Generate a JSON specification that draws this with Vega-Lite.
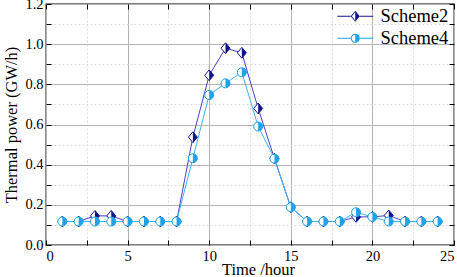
{
  "$schema": "https://vega.github.io/schema/vega-lite/v6.json",
  "width": 408,
  "height": 241,
  "autosize": "none",
  "padding": {"left": 46, "top": 4, "right": 3, "bottom": 32},
  "background": "white",
  "config": {
    "view": {"stroke": "#000", "strokeWidth": 1.3},
    "font": "Liberation Serif, Times New Roman, Times, serif",
    "axis": {"domain": false, "labelFont": "Liberation Serif, Times New Roman, Times, serif", "titleFont": "Liberation Serif, Times New Roman, Times, serif", "labelColor": "#000", "titleColor": "#000", "titleFontWeight": "normal", "tickColor": "#000", "tickWidth": 1},
    "legend": {"labelFont": "Liberation Serif, Times New Roman, Times, serif"}
  },
  "data": {"values": [
    {"t":1,"p":0.117,"s":"Scheme2"},{"t":2,"p":0.117,"s":"Scheme2"},{"t":3,"p":0.145,"s":"Scheme2"},{"t":4,"p":0.145,"s":"Scheme2"},
    {"t":5,"p":0.117,"s":"Scheme2"},{"t":6,"p":0.117,"s":"Scheme2"},{"t":7,"p":0.117,"s":"Scheme2"},{"t":8,"p":0.117,"s":"Scheme2"},
    {"t":9,"p":0.537,"s":"Scheme2"},{"t":10,"p":0.845,"s":"Scheme2"},{"t":11,"p":0.98,"s":"Scheme2"},{"t":12,"p":0.957,"s":"Scheme2"},
    {"t":13,"p":0.68,"s":"Scheme2"},{"t":14,"p":0.43,"s":"Scheme2"},{"t":15,"p":0.188,"s":"Scheme2"},{"t":16,"p":0.117,"s":"Scheme2"},
    {"t":17,"p":0.117,"s":"Scheme2"},{"t":18,"p":0.117,"s":"Scheme2"},{"t":19,"p":0.14,"s":"Scheme2"},{"t":20,"p":0.14,"s":"Scheme2"},
    {"t":21,"p":0.147,"s":"Scheme2"},{"t":22,"p":0.117,"s":"Scheme2"},{"t":23,"p":0.117,"s":"Scheme2"},{"t":24,"p":0.117,"s":"Scheme2"},
    {"t":1,"p":0.117,"s":"Scheme4"},{"t":2,"p":0.117,"s":"Scheme4"},{"t":3,"p":0.117,"s":"Scheme4"},{"t":4,"p":0.117,"s":"Scheme4"},
    {"t":5,"p":0.117,"s":"Scheme4"},{"t":6,"p":0.117,"s":"Scheme4"},{"t":7,"p":0.117,"s":"Scheme4"},{"t":8,"p":0.117,"s":"Scheme4"},
    {"t":9,"p":0.432,"s":"Scheme4"},{"t":10,"p":0.747,"s":"Scheme4"},{"t":11,"p":0.805,"s":"Scheme4"},{"t":12,"p":0.86,"s":"Scheme4"},
    {"t":13,"p":0.59,"s":"Scheme4"},{"t":14,"p":0.43,"s":"Scheme4"},{"t":15,"p":0.188,"s":"Scheme4"},{"t":16,"p":0.117,"s":"Scheme4"},
    {"t":17,"p":0.117,"s":"Scheme4"},{"t":18,"p":0.117,"s":"Scheme4"},{"t":19,"p":0.163,"s":"Scheme4"},{"t":20,"p":0.14,"s":"Scheme4"},
    {"t":21,"p":0.117,"s":"Scheme4"},{"t":22,"p":0.117,"s":"Scheme4"},{"t":23,"p":0.117,"s":"Scheme4"},{"t":24,"p":0.117,"s":"Scheme4"}
  ]},
  "resolve": {"axis": {"x": "independent", "y": "independent"}},
  "layer": [
    {
      "mark": {"type": "line", "strokeWidth": 1},
      "encoding": {
        "x": {"field": "t", "type": "quantitative", "scale": {"domain": [0, 25], "nice": false},
          "axis": {"orient": "bottom", "values": [0,2.5,5,7.5,10,12.5,15,17.5,20,22.5,25],
            "labelExpr": "datum.value % 5 ? '' : datum.label", "labelFontSize": 14.5, "labelPadding": 9, "tickSize": -5,
            "title": "Time /hour", "titleFontSize": 16.5, "titleX": 212, "titleY": 29.5, "titleBaseline": "alphabetic",
            "gridColor": {"condition": {"test": "datum.value % 5", "value": "#dcdcdc"}, "value": "#b4b4b4"},
            "gridDash": {"condition": {"test": "datum.value % 5", "value": [2, 2]}, "value": []}}},
        "y": {"field": "p", "type": "quantitative", "scale": {"domain": [0, 1.2], "nice": false},
          "axis": {"orient": "left", "values": [0,0.1,0.2,0.3,0.4,0.5,0.6,0.7,0.8,0.9,1.0,1.1,1.2],
            "labelExpr": "round(datum.value*10) % 2 ? '' : format(datum.value, '.1f')", "labelFontSize": 14.5, "labelPadding": 8, "tickSize": -5,
            "title": "Thermal power (GW/h)", "titleFontSize": 16.5, "titleX": -29.5, "titleBaseline": "alphabetic", "titleAngle": -90,
            "gridColor": {"condition": {"test": "round(datum.value*10) % 2", "value": "#dcdcdc"}, "value": "#b4b4b4"},
            "gridDash": {"condition": {"test": "round(datum.value*10) % 2", "value": [2, 2]}, "value": []}}},
        "color": {"field": "s", "type": "nominal", "scale": {"domain": ["Scheme2", "Scheme4"], "range": ["#4a40c6", "#3cb2f0"]},
          "legend": {"orient": "none", "legendX": 300, "legendY": 3, "title": null, "padding": 0,
            "symbolSize": 81, "labelOffset": 16, "labelFontSize": 18.5, "labelColor": "#000",
            "rowPadding": 3, "symbolStrokeWidth": 0,
            "encode": {"symbols": {"update": {
              "shape": {"signal": "datum.value === 'Scheme2' ? 'M-4,-0.12L-1,-0.12L-1,0.12L-4,0.12Z M1,-0.12L4,-0.12L4,0.12L1,0.12Z M0,-1.2L1,0L0,1.2Z M0,-1.2L-1,0L0,1.2L0,0.92L-0.76,0L0,-0.92Z' : 'M-4,-0.12L-1,-0.12L-1,0.12L-4,0.12Z M1,-0.12L4,-0.12L4,0.12L1,0.12Z M0,-1A1,1 0 0,1 0,1Z M0,-1A1,1 0 0,0 0,1L0,0.78A0.78,0.78 0 0,1 0,-0.78Z'"},
              "fill": {"signal": "datum.value === 'Scheme2' ? '#12128a' : '#1ea2ea'"},
              "stroke": {"value": "transparent"},
              "strokeWidth": {"value": 0},
              "opacity": {"value": 1}
            }}}}}
      }
    },
    {
      "transform": [{"filter": "datum.s === 'Scheme2'"}],
      "mark": {"type": "point", "shape": "M0,-1.2L1,0L0,1.2L-1,0Z", "size": 81, "filled": true, "fill": "white", "stroke": "#12128a", "strokeWidth": 1, "opacity": 1},
      "encoding": {
        "x": {"field": "t", "type": "quantitative", "scale": {"domain": [0, 25], "nice": false},
          "axis": {"orient": "top", "values": [0,2.5,5,7.5,10,12.5,15,17.5,20,22.5,25], "labels": false, "grid": false, "tickSize": -5, "title": null}},
        "y": {"field": "p", "type": "quantitative", "scale": {"domain": [0, 1.2], "nice": false},
          "axis": {"orient": "right", "values": [0,0.1,0.2,0.3,0.4,0.5,0.6,0.7,0.8,0.9,1.0,1.1,1.2], "labels": false, "grid": false, "tickSize": -5, "title": null}}
      }
    },
    {
      "transform": [{"filter": "datum.s === 'Scheme2'"}],
      "mark": {"type": "point", "shape": "M0,-1.2L1,0L0,1.2Z", "size": 81, "filled": true, "fill": "#12128a", "strokeWidth": 0, "opacity": 1},
      "encoding": {
        "x": {"field": "t", "type": "quantitative", "axis": null},
        "y": {"field": "p", "type": "quantitative", "axis": null}
      }
    },
    {
      "transform": [{"filter": "datum.s === 'Scheme4'"}],
      "mark": {"type": "point", "shape": "circle", "size": 81, "filled": true, "fill": "white", "stroke": "#1e9ee6", "strokeWidth": 1, "opacity": 1},
      "encoding": {
        "x": {"field": "t", "type": "quantitative", "axis": null},
        "y": {"field": "p", "type": "quantitative", "axis": null}
      }
    },
    {
      "transform": [{"filter": "datum.s === 'Scheme4'"}],
      "mark": {"type": "point", "shape": "M0,-1A1,1 0 0,1 0,1Z", "size": 81, "filled": true, "fill": "#1ea2ea", "strokeWidth": 0, "opacity": 1},
      "encoding": {
        "x": {"field": "t", "type": "quantitative", "axis": null},
        "y": {"field": "p", "type": "quantitative", "axis": null}
      }
    }
  ]
}
